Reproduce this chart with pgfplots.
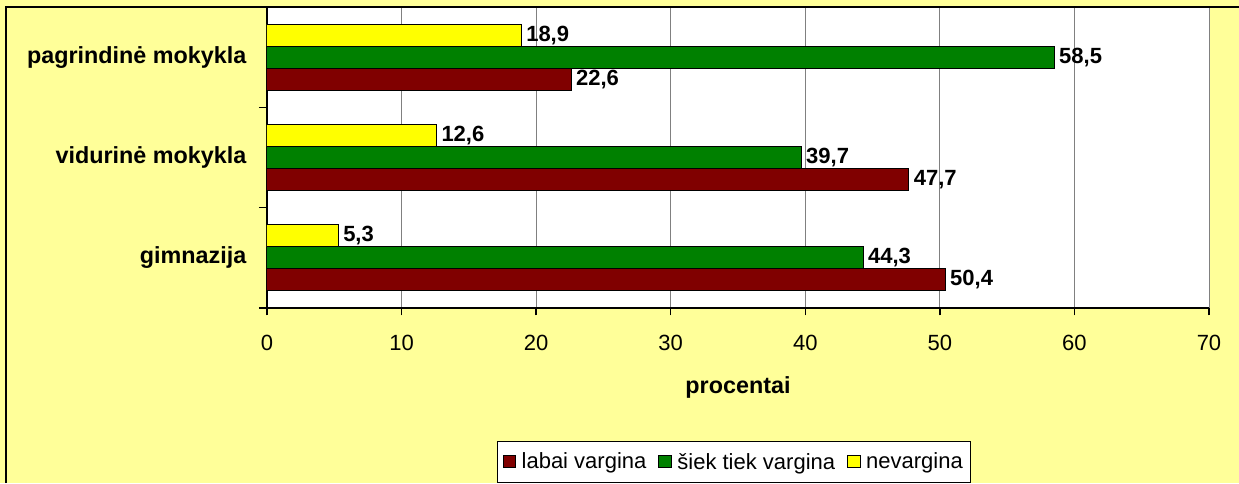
\documentclass[border=0pt]{standalone}
\usepackage{pgfplots}
\pgfplotsset{compat=1.18}
\usepackage{fontspec}
\setmainfont{Liberation Sans}
\definecolor{bg}{HTML}{FFFF99}
\definecolor{cred}{HTML}{800000}
\definecolor{cgreen}{HTML}{008000}
\definecolor{cyellow}{HTML}{FFFF00}
\newcommand\fr{\fontsize{16.5}{19}\selectfont}
\newcommand\fb{\fontsize{17.5}{20}\selectfont\bfseries}
\newcommand\fv{\fontsize{16.5}{19}\selectfont\bfseries}
\begin{document}
\begin{tikzpicture}[x=0.75pt,y=-0.75pt]
\useasboundingbox (0,0) rectangle (1239,483);
\fill[bg] (0,0) rectangle (1239,483);
\coordinate (axsw) at (267,308);
\begin{axis}[
  at={(axsw)}, anchor=south west,
  scale only axis, width=706.5pt, height=225.75pt,
  xmin=0, xmax=70, ymin=-0.5, ymax=2.5,
  xbar, bar width=16.5pt,
  axis background/.style={fill=white},
  axis x line=bottom, axis y line=left,
  axis line style={-, black, line width=1pt},
  xtick={0,10,...,70},
  ytick={0,1,2},
  yticklabels={gimnazija, vidurinė mokykla, pagrindinė mokykla},
  minor ytick={-0.5,0.5,1.5,2.5},
  tick align=outside,
  major tick length=5.5pt, minor tick length=6pt,
  major y tick style={draw=none},
  minor y tick style={black, line width=1pt},
  major x tick style={black, line width=1pt},
  xmajorgrids, major x grid style={color=gray, line width=0.75pt},
  xticklabel style={font=\fr, yshift=-11pt},
  yticklabel style={font=\fb, xshift=-6.5pt},
  /pgf/number format/assume math mode=true,
  xlabel={procentai},
  xlabel style={font=\fb, yshift=-13pt},
  point meta=x,
  nodes near coords={\pgfmathprintnumber[use comma,fixed,fixed zerofill,precision=1,assume math mode=true]{\pgfplotspointmeta}},
  nodes near coords align={horizontal},
  every node near coord/.append style={font=\fv, anchor=west, black},
  legend columns=3,
  legend style={at={(0.4958,-0.5116)}, anchor=center, draw=black, line width=1pt, fill=white, font=\fr,
    inner ysep=6.5pt, inner xsep=4pt,
    /tikz/every odd column/.append style={column sep=2pt},
    /tikz/every even column/.append style={column sep=7pt}},
]
\addplot[fill=cred, draw=black, line width=0.75pt, bar shift=-16.5pt,
  legend image code/.code={\draw[fill=cred,draw=black,line width=0.75pt] (0pt,-4.5pt) rectangle (9.5pt,4.5pt);}]
  coordinates {(50.4,0) (47.7,1) (22.6,2)};
\addplot[fill=cgreen, draw=black, line width=0.75pt, bar shift=0pt,
  legend image code/.code={\draw[fill=cgreen,draw=black,line width=0.75pt] (0pt,-4.5pt) rectangle (9.5pt,4.5pt);}]
  coordinates {(44.3,0) (39.7,1) (58.5,2)};
\addplot[fill=cyellow, draw=black, line width=0.75pt, bar shift=16.5pt,
  legend image code/.code={\draw[fill=cyellow,draw=black,line width=0.75pt] (0pt,-4.5pt) rectangle (9.5pt,4.5pt);}]
  coordinates {(5.3,0) (12.6,1) (18.9,2)};
\legend{labai vargina, šiek tiek vargina, nevargina}
\end{axis}
\draw[black, line width=1.5pt] (6,483) -- (6,7) -- (1239,7);
\end{tikzpicture}
\end{document}
